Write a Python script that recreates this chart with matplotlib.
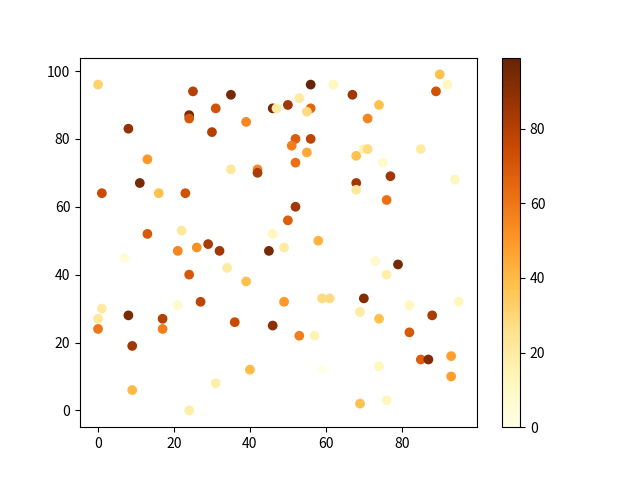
import matplotlib
matplotlib.use("Agg")
import matplotlib.pyplot as plt

plt.rcParams['font.family'] = ['Noto Sans CJK SC', 'DejaVu Sans']

# values (x, y, colour value)
x = [0, 1, 1, 0, 0, 8, 8, 9, 9, 11,
     13, 13, 7, 16, 23, 22, 21, 26, 29, 32,
     24, 27, 17, 17, 21, 31, 24, 25, 31, 24,
     24, 30, 39, 35, 56, 62, 67, 46, 47, 50,
     53, 56, 55, 52, 56, 51, 55, 52, 35, 42,
     42, 90, 92, 89, 74, 71, 70, 71, 68, 85,
     75, 77, 68, 68, 94, 76, 73, 79, 76, 70,
     95, 52, 50, 46, 58, 45, 49, 34, 39, 49,
     59, 61, 36, 46, 53, 57, 40, 59, 82, 69,
     74, 88, 82, 85, 87, 93, 74, 93, 76, 69]
y = [96, 64, 30, 27, 24, 83, 28, 19, 6, 67,
     74, 52, 45, 64, 64, 53, 47, 48, 49, 47,
     40, 32, 27, 24, 31, 8, 0, 94, 89, 87,
     86, 82, 85, 93, 96, 96, 93, 89, 89, 90,
     92, 89, 88, 80, 80, 78, 76, 73, 71, 71,
     70, 99, 96, 94, 90, 86, 77, 77, 75, 77,
     73, 69, 67, 65, 68, 62, 44, 43, 40, 33,
     32, 60, 56, 52, 50, 47, 48, 42, 38, 32,
     33, 33, 26, 25, 22, 22, 12, 12, 31, 29,
     27, 28, 23, 15, 15, 16, 13, 10, 3, 2]
c = [32, 75, 20, 22, 60, 88, 95, 85, 40, 95,
     50, 70, 5, 38, 72, 22, 55, 52, 82, 85,
     70, 78, 80, 58, 8, 18, 18, 80, 72, 95,
     70, 80, 55, 95, 99, 12, 85, 95, 20, 85,
     20, 65, 28, 68, 78, 58, 45, 62, 22, 55,
     82, 38, 12, 72, 38, 55, 15, 28, 38, 20,
     8, 85, 85, 22, 12, 62, 8, 95, 18, 92,
     12, 85, 68, 12, 42, 95, 20, 20, 38, 50,
     28, 28, 75, 90, 58, 15, 40, 0, 12, 20,
     38, 82, 70, 68, 93, 48, 12, 48, 12, 38]

fig, ax = plt.subplots(figsize=(6.4, 4.8), dpi=100)
sc = ax.scatter(x, y, c=c, cmap='YlOrBr')
fig.colorbar(sc, ax=ax)

plt.savefig("out.png")
